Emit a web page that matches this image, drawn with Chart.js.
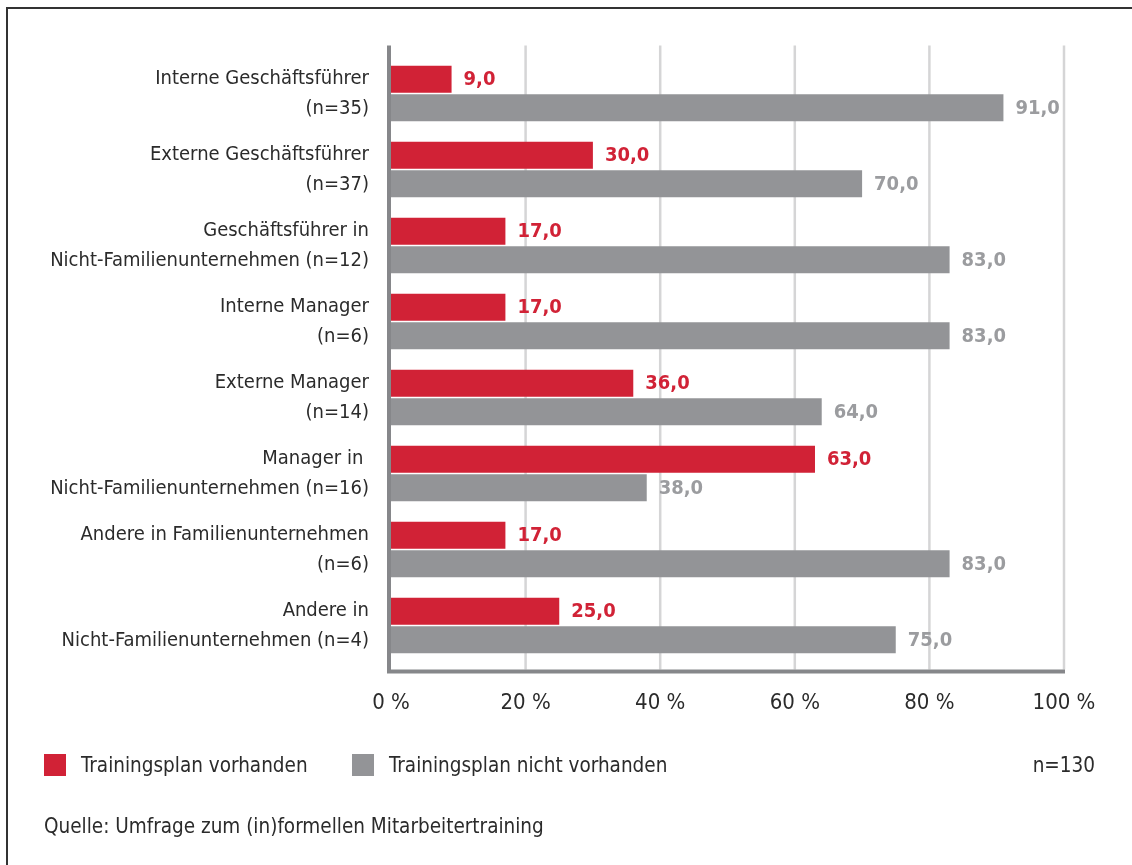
<!DOCTYPE html>
<html>
<head>
<meta charset="utf-8">
<script src="https://cdn.jsdelivr.net/npm/chart.js@4"></script>
<style>
  body { margin: 0; background: #fff; font-family: 'Liberation Sans Narrow', 'DejaVu Sans Condensed', sans-serif; color: #2b2b2b; }
  #wrap { position: relative; width: 1132px; height: 865px; overflow: hidden; }
  #frame { position: absolute; left: 6px; top: 7px; width: 1200px; height: 1000px; border-top: 2px solid #333; border-left: 2px solid #333; }
  canvas { position: absolute; left: 0; top: 0; }
  .txt { position: absolute; font-size: 20.5px; line-height: 22px; white-space: nowrap; }
  .box { position: absolute; width: 22px; height: 22px; }
</style>
</head>
<body>
<div id="wrap">
  <div id="frame"></div>
  <canvas id="barChart" width="1132" height="865"></canvas>
  <div id="legend"></div>
  <div class="txt" id="total" style="right:37px; top:754px;">n=130</div>
  <div class="txt" style="left:44px; top:815px;">Quelle: Umfrage zum (in)formellen Mitarbeitertraining</div>
</div>
<script>
const categories = [
  ['Interne Geschäftsführer', '(n=35)'],
  ['Externe Geschäftsführer', '(n=37)'],
  ['Geschäftsführer in', 'Nicht-Familienunternehmen (n=12)'],
  ['Interne Manager', '(n=6)'],
  ['Externe Manager', '(n=14)'],
  ['Manager in ', 'Nicht-Familienunternehmen (n=16)'],
  ['Andere in Familienunternehmen', '(n=6)'],
  ['Andere in', 'Nicht-Familienunternehmen (n=4)']
];
const planVorhanden = [9, 30, 17, 17, 36, 63, 17, 25];
const planNichtVorhanden = [91, 70, 83, 83, 64, 38, 83, 75];
const seriesNames = ['Trainingsplan vorhanden', 'Trainingsplan nicht vorhanden'];
const xTicks = [0, 20, 40, 60, 80, 100];

const RED = '#d12236';
const GREY = '#939497';
const GREY_LABEL = '#9b9c9f';
const FONT = "'Liberation Sans Narrow', 'DejaVu Sans Condensed', sans-serif";

// grid + axis lines run a little past the bar area, bars sit on top
const backdrop = {
  id: 'backdrop',
  beforeDatasetsDraw(chart) {
    const ctx = chart.ctx;
    const area = chart.chartArea;
    const x = chart.scales.x;
    const top = area.top - 10, bottom = area.bottom + 6;

    ctx.save();
    ctx.strokeStyle = '#d5d5d6';
    ctx.lineWidth = 2.5;
    xTicks.slice(1).forEach(v => {
      const px = x.getPixelForValue(v);
      ctx.beginPath();
      ctx.moveTo(px, top);
      ctx.lineTo(px, bottom);
      ctx.stroke();
    });

    ctx.strokeStyle = '#86878a';
    ctx.lineWidth = 4;
    ctx.beginPath();
    ctx.moveTo(area.left - 2, top);
    ctx.lineTo(area.left - 2, bottom + 2);
    ctx.lineTo(x.getPixelForValue(100) + 1, bottom + 2);
    ctx.stroke();
    ctx.restore();
  },
  afterDatasetsDraw(chart) {
    const ctx = chart.ctx;
    ctx.save();
    ctx.font = 'bold 20px ' + FONT;
    ctx.textBaseline = 'middle';
    ctx.textAlign = 'left';
    chart.data.datasets.forEach((ds, i) => {
      chart.getDatasetMeta(i).data.forEach((bar, j) => {
        ctx.fillStyle = i === 0 ? RED : GREY_LABEL;
        ctx.fillText(ds.data[j].toFixed(1).replace('.', ','), bar.x + 12, bar.y + 1);
      });
    });
    ctx.restore();
  }
};

new Chart(document.getElementById('barChart'), {
  type: 'bar',
  data: {
    labels: categories,
    datasets: [{
      label: seriesNames[0],
      data: planVorhanden,
      backgroundColor: RED
    }, {
      label: seriesNames[1],
      data: planNichtVorhanden,
      backgroundColor: GREY
    }]
  },
  options: {
    indexAxis: 'y',
    responsive: false,
    animation: false,
    categoryPercentage: 0.75,
    barPercentage: 0.947,
    layout: { padding: { top: 55.5, right: 68, bottom: 121.5, left: 0 } },
    plugins: { legend: { display: false }, tooltip: { enabled: false } },
    scales: {
      x: {
        min: 0,
        max: 100,
        afterFit: s => { s.height = 80; },
        afterBuildTicks: s => { s.ticks = xTicks.map(v => ({ value: v })); },
        grid: { display: false },
        border: { display: false },
        ticks: {
          padding: 19,
          color: '#2b2b2b',
          font: { family: FONT, size: 22 },
          callback: v => v + ' %'
        }
      },
      y: {
        afterFit: s => { s.width = 391; },
        grid: { display: false },
        border: { display: false },
        ticks: {
          padding: 14,
          color: '#2b2b2b',
          font: { family: FONT, size: 20, lineHeight: 1.5 }
        }
      }
    }
  },
  plugins: [backdrop]
});

// legend built from the series names
const legend = document.getElementById('legend');
[[44, 81, RED], [352, 389, GREY]].forEach(([bx, tx, col], i) => {
  legend.insertAdjacentHTML('beforeend',
    `<div class="box" style="left:${bx}px; top:754px; background:${col}"></div>` +
    `<div class="txt" style="left:${tx}px; top:754px;">${seriesNames[i]}</div>`);
});
</script>
</body>
</html>
